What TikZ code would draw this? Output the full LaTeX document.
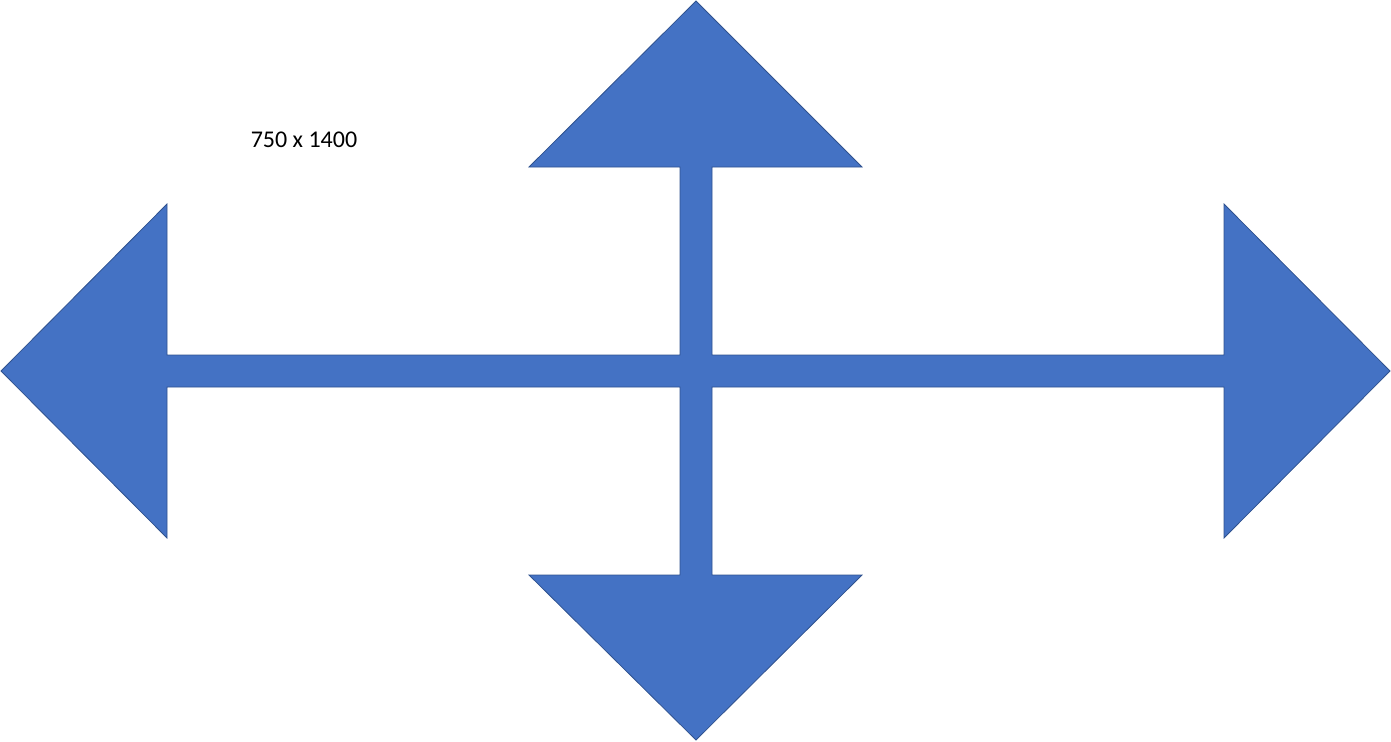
\documentclass[tikz,border=0pt]{standalone}
\usepackage{fontspec}
\setmainfont{Carlito}
\definecolor{arrowfill}{HTML}{4472C4}
\definecolor{arrowline}{HTML}{2F528F}
\tikzset{quadarrow/.style={fill=arrowfill,draw=arrowline,line width=0.8pt,line join=miter},
  label text/.style={font=\fontsize{24}{29}\selectfont,text=black,inner sep=0pt}}
\begin{document}
\begin{tikzpicture}[x=1pt,y=-1pt]
\useasboundingbox (0,0) rectangle (1391,741);
\draw[quadarrow] (696,1) -- (862,167) -- (712,167) -- (712,355) -- (1224,355) -- (1224,204)
  -- (1390,371) -- (1224,538) -- (1224,387) -- (712,387) -- (712,575) -- (862,575)
  -- (696,740) -- (529,575) -- (680,575) -- (680,387) -- (167,387) -- (167,538)
  -- (1,371) -- (167,204) -- (167,355) -- (680,355) -- (680,167) -- (529,167) -- cycle;
\node[label text] (dims) at (304,140) {750 x 1400};
\end{tikzpicture}
\end{document}
